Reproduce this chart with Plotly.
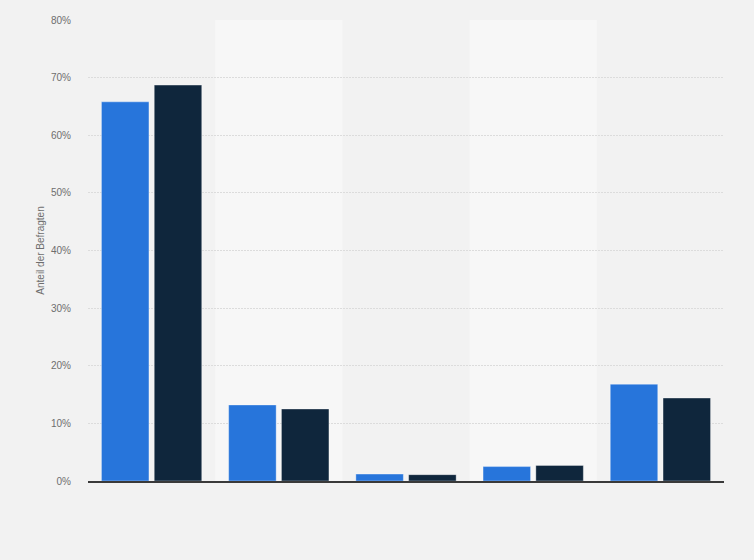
import plotly.graph_objects as go

categories = ["1", "2", "3", "4", "5"]
series_a = [65.8, 13.2, 1.2, 2.5, 16.8]
series_b = [68.7, 12.5, 1.1, 2.7, 14.4]
y_ticks = [0, 10, 20, 30, 40, 50, 60, 70, 80]
y_ticklabels = [f"{t}%" for t in y_ticks]

BLUE = "#2775db"
NAVY = "#0f263c"
BG = "#f2f2f2"
BAND = "#f7f7f7"


def main():
    fig = go.Figure()
    fig.add_trace(go.Bar(
        x=categories, y=series_a, name="Serie 1",
        marker=dict(color=BLUE, line=dict(color="rgba(255,255,255,0.35)", width=1)),
    ))
    fig.add_trace(go.Bar(
        x=categories, y=series_b, name="Serie 2",
        marker=dict(color=NAVY, line=dict(color="rgba(255,255,255,0.35)", width=1)),
    ))

    # lighter background band behind every second category
    for i in range(1, len(categories), 2):
        fig.add_shape(type="rect", xref="x", yref="paper",
                      x0=i - 0.5, x1=i + 0.5, y0=0, y1=1,
                      fillcolor=BAND, line=dict(width=0), layer="below")

    fig.update_layout(
        width=754, height=560,
        paper_bgcolor=BG, plot_bgcolor=BG,
        margin=dict(l=88, r=30, t=20, b=79),
        barmode="group", bargap=0.17, bargroupgap=0.1,
        showlegend=False,
        font=dict(family="Liberation Sans, Arial, sans-serif", color="#666666"),
        xaxis=dict(
            showticklabels=False, showgrid=False, ticks="",
            showline=True, linecolor="#3a3a3a", linewidth=1.5,
            range=[-0.5, len(categories) - 0.5],
        ),
        yaxis=dict(
            range=[0, 80], tickvals=y_ticks, ticktext=y_ticklabels,
            tickfont=dict(size=10, color="#6e6e6e"),
            showgrid=True, gridcolor="#dcdcdc", griddash="2px,1px", gridwidth=1,
            zeroline=False, ticks="", ticklabelstandoff=16,
            title=dict(text="Anteil der Befragten", font=dict(size=10, color="#6e6e6e"), standoff=4),
        ),
    )

    # page body margin would shift the chart; remove it
    fig.write_html("out.html", config={"displayModeBar": False},
                   post_script="document.body.style.margin='0';")


if __name__ == "__main__":
    main()
